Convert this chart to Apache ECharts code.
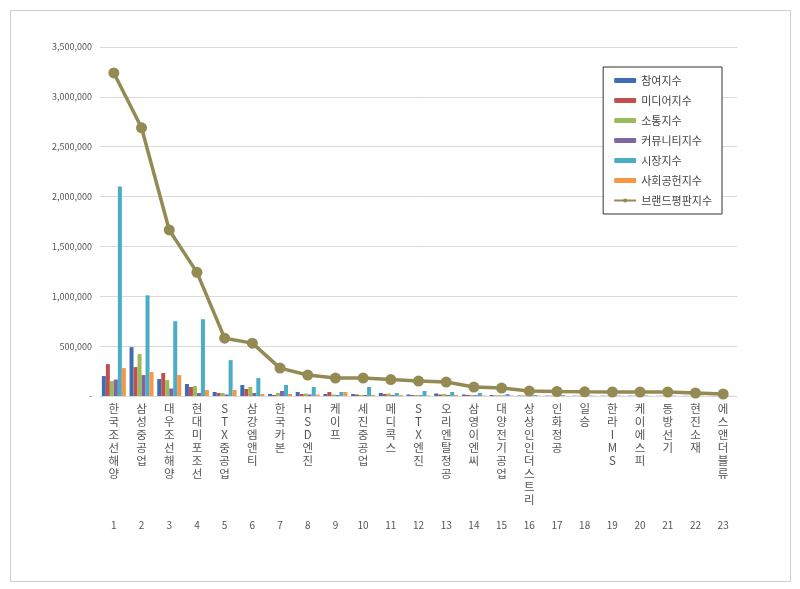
<!DOCTYPE html><html><head><meta charset="utf-8"><script src="https://cdn.jsdelivr.net/npm/echarts@6/dist/echarts.min.js"></script>
<style>body{margin:0;background:#fff}#c{width:800px;height:589px}#b{position:absolute;left:10px;top:10px;width:779px;height:570px;border:1px solid #d0d0d0}</style></head><body><div id="b"></div><div id="c" style="position:absolute;left:0;top:0"></div><script>
const categories=['한국조선해양','삼성중공업','대우조선해양','현대미포조선','STX중공업','삼강엠앤티','한국카본','HSD엔진','케이프','세진중공업','메디콕스','STX엔진','오리엔탈정공','삼영이엔씨','대양전기공업','상상인인더스트리','인화정공','일승','한라IMS','케이에스피','동방선기','현진소재','에스앤더블류'];
const ranks=categories.map((_,i)=>String(i+1));
const participation=[200000,490000,170000,120000,40000,110000,20000,40000,20000,20000,30000,15000,25000,15000,10000,5000,4000,3000,3000,3000,2000,2000,1000];
const media=[320000,290000,230000,90000,30000,70000,10000,20000,40000,15000,20000,10000,15000,10000,5000,4000,3000,2000,2000,2000,2000,1000,1000];
const communication=[150000,420000,160000,100000,30000,90000,30000,25000,15000,10000,25000,10000,20000,10000,8000,4000,3000,2000,2000,2000,2000,1000,1000];
const community=[165000,210000,75000,30000,15000,30000,50000,15000,10000,10000,10000,8000,10000,8000,5000,3000,2000,2000,2000,2000,1000,1000,1000];
const market=[2100000,1010000,750000,770000,360000,180000,110000,90000,40000,90000,30000,50000,40000,30000,20000,10000,8000,5000,5000,5000,4000,3000,2000];
const social=[280000,240000,210000,60000,60000,20000,20000,15000,40000,10000,10000,5000,10000,5000,5000,3000,2000,2000,2000,2000,1000,1000,1000];
const brand=[3240000,2690000,1665000,1240000,580000,530000,280000,210000,180000,180000,165000,150000,140000,90000,80000,50000,45000,42000,40000,40000,40000,30000,20000];
const names=['참여지수','미디어지수','소통지수','커뮤니티지수','시장지수','사회공헌지수','브랜드평판지수'];
const colors=['#3F6DB3','#C0504D','#9BBB59','#8064A2','#4BACC6','#F79646','#948A54'];
const barData=[participation,media,communication,community,market,social];
const chart=echarts.init(document.getElementById('c'));
const font='"Noto Sans CJK KR", sans-serif';
chart.setOption({
 animation:false,
 color:colors,
 grid:{left:100,right:63,top:47,bottom:193},
 legend:{orient:'vertical',right:78,top:67,width:118,padding:[8,10,8,10],itemGap:9,itemWidth:22,itemHeight:5,
   borderColor:'#333',borderWidth:1,backgroundColor:'#fff',textStyle:{fontFamily:font,fontSize:11,color:'#444'},data:names},
 xAxis:[{type:'category',data:categories,position:'bottom',axisLine:{lineStyle:{color:'#d9d9d9'}},
   axisTick:{length:134,lineStyle:{color:'#d9d9d9'}},
   axisLabel:{interval:0,margin:6,lineHeight:13,color:'#555',fontFamily:font,fontSize:11.5,verticalAlign:'top',
     formatter:v=>v.split('').join('\n')}},
  {type:'category',data:ranks,position:'bottom',offset:116,axisLine:{show:false},axisTick:{show:false},
   axisLabel:{interval:0,color:'#555',fontSize:10,fontFamily:font}}],
 yAxis:{type:'value',min:0,max:3500000,interval:500000,axisLine:{show:false},axisTick:{show:false},
   splitLine:{lineStyle:{color:'#d9d9d9'}},
   axisLabel:{color:'#555',fontSize:9,fontFamily:font,formatter:v=>v===0?'-':v.toLocaleString('en-US')}},
 series:[...barData.map((d,i)=>({name:names[i],type:'bar',data:d,barWidth:4,barGap:'0%'})),
  {name:names[6],type:'line',data:brand,symbol:'circle',symbolSize:11,lineStyle:{width:3.5,color:colors[6]},itemStyle:{color:colors[6]}}]
});
</script></body></html>
